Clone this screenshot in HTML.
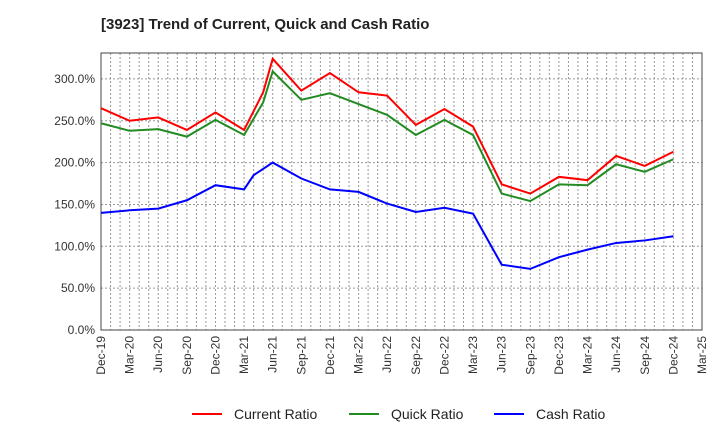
<!DOCTYPE html>
<html><head><meta charset="utf-8"><style>
body{margin:0;background:#fff;font-family:"Liberation Sans",sans-serif}
svg text{font-family:"Liberation Sans",sans-serif}
</style></head><body>
<svg id="c" width="720" height="440" xmlns="http://www.w3.org/2000/svg">
<text x="101" y="29" font-size="15" font-weight="bold" fill="#222">[3923]  Trend of Current, Quick and Cash Ratio</text>
<g id="grid"></g><g id="axes"></g><g id="series"></g>
<g>
<line x1="192" y1="414" x2="222" y2="414" stroke="#f00" stroke-width="2"/>
<text x="234" y="419" font-size="14" fill="#222">Current Ratio</text>
<line x1="349" y1="414" x2="379" y2="414" stroke="#228b22" stroke-width="2"/>
<text x="391" y="419" font-size="14" fill="#222">Quick Ratio</text>
<line x1="494" y1="414" x2="524" y2="414" stroke="#00f" stroke-width="2"/>
<text x="536" y="419" font-size="14" fill="#222">Cash Ratio</text>
</g>
</svg>
<script>
const xLabels=["Dec-19","Mar-20","Jun-20","Sep-20","Dec-20","Mar-21","Jun-21","Sep-21","Dec-21","Mar-22","Jun-22","Sep-22","Dec-22","Mar-23","Jun-23","Sep-23","Dec-23","Mar-24","Jun-24","Sep-24","Dec-24","Mar-25"];
const yTicks=[0,50,100,150,200,250,300];
const monthsCQ=[0,3,6,9,12,15,17,18,21,24,27,30,33,36,39,42,45,48,51,54,57,60];
const currentRatio=[265,250,254,239,260,239,284,324,286,307,284,280,245,264,243,174,163,183,179,208,196,213];
const quickRatio=[247,238,240,231,251,233,272,309,275,283,270,257,233,251,233,163,154,174,173,198,189,204];
const monthsCash=[0,3,6,9,12,15,16,18,21,24,27,30,33,36,39,42,45,48,51,54,57,60];
const cashRatio=[140,143,145,155,173,168,185,200,181,168,165,151,141,146,139,78,73,87,96,104,107,112];
const L=101,R=702,T=53,B=330,NM=63,YMAX=331;
const X=m=>L+(R-L)*m/NM, Y=v=>B-(B-T)*v/YMAX*1;
const Yv=v=>B-v*0.837;
const ns="http://www.w3.org/2000/svg";
function mk(p,t,a){const e=document.createElementNS(ns,t);for(const k in a)e.setAttribute(k,a[k]);p.appendChild(e);return e;}
const g=document.getElementById('grid'),ax=document.getElementById('axes'),s=document.getElementById('series');
for(let m=1;m<NM;m++){const l=mk(g,'line',{x1:X(m),x2:X(m),y1:T,y2:B,stroke:'#999','stroke-dasharray':'2,2','stroke-width':1});

}
yTicks.forEach(v=>{if(v>0){const l=mk(g,'line',{x1:L,x2:R,y1:Yv(v),y2:Yv(v),stroke:'#999','stroke-dasharray':'2,2','stroke-width':1});

}
const t=mk(ax,'text',{x:L-6,y:Yv(v)+4,'text-anchor':'end','font-size':12,fill:'#333'});t.textContent=v.toFixed(1)+'%';

});
xLabels.forEach((lb,i)=>{const x=X(i*3);const t=mk(ax,'text',{transform:`translate(${x+4},${B+6}) rotate(-90)`,'text-anchor':'end','font-size':12,fill:'#333'});t.textContent=lb;

});
const fr=mk(ax,'rect',{x:L,y:T,width:R-L,height:B-T,fill:'none',stroke:'#444','stroke-width':1});


function line(ms,vals,col,name){const p=mk(s,'polyline',{points:vals.map((v,i)=>X(ms[i])+','+Yv(v)).join(' '),fill:'none',stroke:col,'stroke-width':2});

}
line(monthsCQ,currentRatio,'#f00','current-ratio-line');
line(monthsCQ,quickRatio,'#228b22','quick-ratio-line');
line(monthsCash,cashRatio,'#00f','cash-ratio-line');
</script>
</body></html>
